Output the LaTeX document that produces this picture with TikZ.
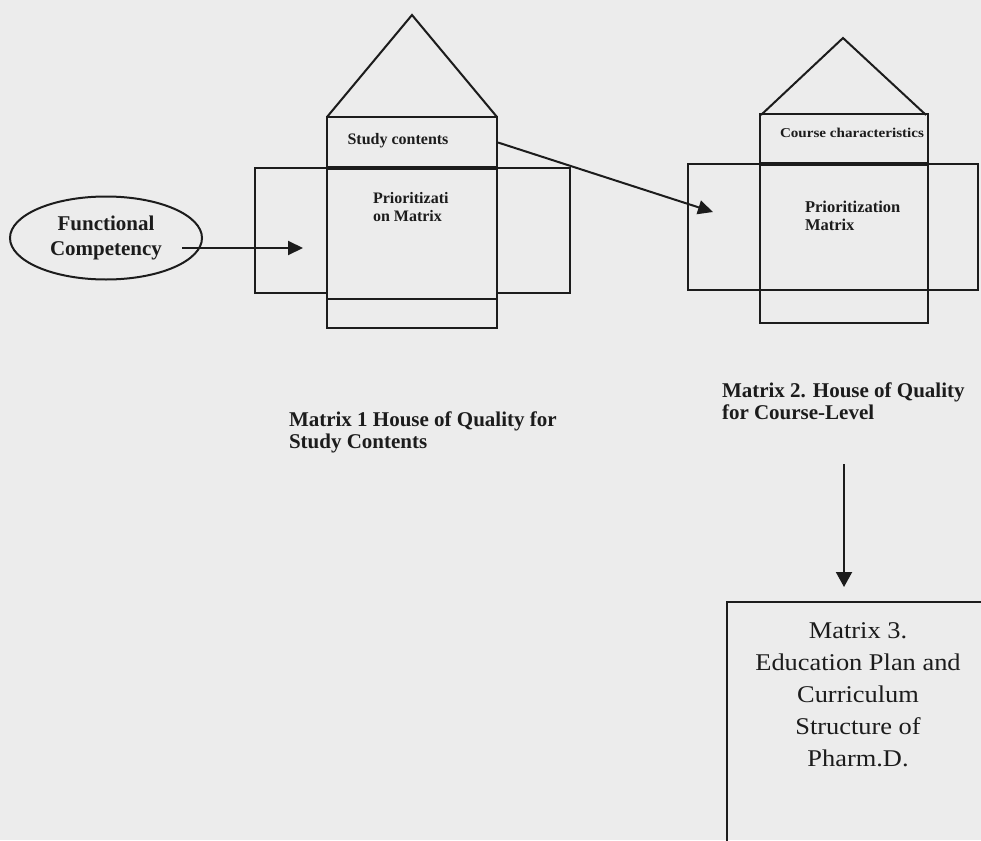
\documentclass[tikz,border=0pt]{standalone}
\usepackage{fontspec}
\setmainfont{Liberation Serif}
\newfontfamily\wideser[FakeStretch=1.1]{Liberation Serif}
\newfontfamily\widerser[FakeStretch=1.12]{Liberation Serif}
\usetikzlibrary{arrows.meta,shapes.geometric}
\definecolor{bg}{RGB}{236,236,236}
\definecolor{ink}{RGB}{28,28,28}
\begin{document}
\begin{tikzpicture}[x=1pt,y=-1pt,line width=2pt,
  every node/.style={text=ink},
  outl/.style={draw=ink,line width=2pt},
  thickl/.style={draw=ink,line width=3.8pt},
  arr/.style={draw=ink,line width=2pt,-{Triangle[length=15pt,width=14pt]}},
  boldtxt/.style={font=\bfseries\fontsize{16}{18}\selectfont,inner sep=0pt},
  captxt/.style={font=\bfseries\fontsize{21}{21.5}\selectfont,align=left,inner sep=0pt,anchor=north west}]
\useasboundingbox (0,0) rectangle (981,840);
\fill[bg] (0,0) rectangle (981,840);

% ---------- House 1 ----------
\draw[outl] (255,168) rectangle (570,293);
\draw[outl,fill=bg] (327,117) rectangle (497,328);
\draw[outl] (327,299) -- (497,299);
\draw[outl,line join=miter] (327,117) -- (412,15) -- (497,117);
\node[minimum width=170pt,minimum height=51pt,inner sep=0pt] (sc) at (412,142.5) {};
\node[boldtxt] (sctext) at (398,141) {Study contents};
\draw[thickl] (327,168) -- (497,168);
\node[boldtxt,align=left,anchor=north west] (pm1) at (372,191) {Prioritizati\\on Matrix};

% ---------- Functional competency ----------
\node[draw=ink,line width=2pt,ellipse,minimum width=192pt,minimum height=83pt,inner sep=0pt,
  align=center,font=\bfseries\fontsize{21}{25}\selectfont] (fc) at (106,238) {Functional\\Competency};
\coordinate (a1s) at (182,248);
\coordinate (a1e) at (303,248);
\draw[arr] (a1s) -- (a1e);

% ---------- House 2 ----------
\draw[outl] (688,164) rectangle (978,290);
\draw[outl] (760,114) rectangle (928,323);
\draw[outl,line join=miter] (761,115) -- (843,38) -- (926,115);
\draw[thickl] (760,164) -- (928,164);
\node[inner sep=0pt,font=\widerser\bfseries\fontsize{13.5}{15}\selectfont] (cc) at (852,133) {Course characteristics};
\node[boldtxt,align=left,anchor=north west,font=\bfseries\fontsize{16.5}{18}\selectfont] (pm2) at (804,200) {Prioritization\\Matrix};

\coordinate (a2e) at (713,212);
\draw[arr] (sc.east) -- (a2e);

% ---------- Captions ----------
\node[captxt] (cap1) at (288,411) {Matrix 1 House of Quality for\\Study Contents};
\node[captxt] (cap2) at (721,382) {Matrix 2. House of Quality\\for Course-Level};

% ---------- Matrix 3 ----------
\coordinate (a3s) at (844,464);
\coordinate (a3e) at (844,587);
\draw[draw=ink,line width=2pt,-{Triangle[length=15pt,width=16pt]}] (a3s) -- (a3e);
\begin{scope}
\clip (0,0) rectangle (981,840);
\draw[outl] (727,602) rectangle (1010,880);
\end{scope}
\node[inner sep=0pt,align=center,anchor=north,font=\wideser\fontsize{24}{32}\selectfont] (m3) at (858,622)
  {Matrix 3.\\Education Plan and\\Curriculum\\Structure of\\Pharm.D.};
\end{tikzpicture}
\end{document}
